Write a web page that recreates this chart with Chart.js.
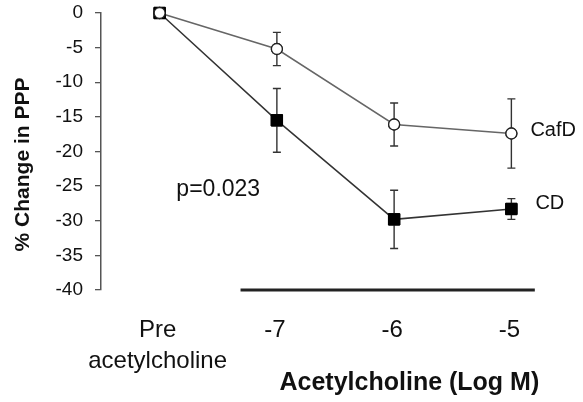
<!DOCTYPE html>
<html><head><meta charset="utf-8">
<script src="https://cdn.jsdelivr.net/npm/chart.js@4/dist/chart.umd.min.js"></script>
<style>html,body{margin:0;padding:0;background:#fff;} #wrap{width:583px;height:402px;}</style>
</head><body><div id="wrap"><canvas id="c" width="583" height="402"></canvas></div>
<script>
const categories = [["Pre", "acetylcholine"], "-7", "-6", "-5"];
const seriesNames = ["CafD", "CD"];
const cafdMean = [0, -5.2, -16.1, -17.4];
const cafdErr  = [0, 2.4, 3.1, 5.0];
const cdMean   = [0, -15.5, -29.8, -28.3];
const cdErr    = [0, 4.6, 4.2, 1.5];
const yMin = -40, yMax = 0, yStep = 5;
const pText = "p=0.023";
const pPos = {between: [0, 1], value: -25.5};
const yTitle = "% Change in PPP";
const xTitle = "Acetylcholine (Log M)";

const FONT = "'Liberation Sans', Arial, sans-serif";
const TXT = "#111";

const errs = [cafdErr, cdErr];
const labelOffsets = [{dx: 19, dy: -3}, {dx: 24, dy: -5}];

const extras = {
  id: 'extras',
  afterDatasetsDraw(chart) {
    const ctx = chart.ctx;
    const xs = chart.scales.x, ys = chart.scales.y;
    ctx.save();
    ctx.strokeStyle = '#333';
    ctx.lineWidth = 1.4;
    chart.data.datasets.forEach((ds, di) => {
      ds.data.forEach((v, i) => {
        const e = errs[di][i];
        if (!e) return;
        const x = xs.getPixelForValue(i);
        const y1 = ys.getPixelForValue(v + e), y2 = ys.getPixelForValue(v - e);
        ctx.beginPath();
        ctx.moveTo(x, y1); ctx.lineTo(x, y2);
        ctx.moveTo(x - 4, y1); ctx.lineTo(x + 4, y1);
        ctx.moveTo(x - 4, y2); ctx.lineTo(x + 4, y2);
        ctx.stroke();
      });
    });
    ctx.restore();
    chart.data.datasets.map((d, i) => i).reverse().forEach(di => {
      const meta = chart.getDatasetMeta(di);
      meta.data.forEach(pt => pt.draw(ctx, chart.chartArea));
    });
  },
  afterDraw(chart) {
    const ctx = chart.ctx;
    const xs = chart.scales.x, ys = chart.scales.y;
    const step = xs.getPixelForValue(1) - xs.getPixelForValue(0);
    ctx.save();
    ctx.fillStyle = TXT;
    ctx.font = "20px " + FONT;
    ctx.textAlign = 'left';
    ctx.textBaseline = 'middle';
    chart.data.datasets.forEach((ds, di) => {
      const last = ds.data.length - 1;
      const x = xs.getPixelForValue(last) + labelOffsets[di].dx;
      const y = ys.getPixelForValue(ds.data[last]) + labelOffsets[di].dy;
      ctx.fillText(ds.label, x, y);
    });
    ctx.font = "23px " + FONT;
    ctx.textAlign = 'center';
    const px = (xs.getPixelForValue(pPos.between[0]) + xs.getPixelForValue(pPos.between[1])) / 2;
    ctx.fillText(pText, px, ys.getPixelForValue(pPos.value));
    // x axis title, centred under the dose categories
    ctx.font = "bold 25px " + FONT;
    ctx.fillText(xTitle, xs.getPixelForValue(2) + 0.13 * step, xs.bottom - 15);
    // bar under dose points
    ctx.strokeStyle = '#222';
    ctx.lineWidth = 3;
    ctx.beginPath();
    ctx.moveTo(xs.getPixelForValue(1) - 0.31 * step, ys.bottom);
    ctx.lineTo(xs.getPixelForValue(3) + 0.2 * step, ys.bottom);
    ctx.stroke();
    // y title
    ctx.translate(23, (ys.top + ys.bottom) / 2 + 13);
    ctx.rotate(-Math.PI / 2);
    ctx.font = "bold 21px " + FONT;
    ctx.textAlign = 'center';
    ctx.fillText(yTitle, 0, 0);
    ctx.restore();
  }
};

new Chart(document.getElementById('c'), {
  type: 'line',
  data: {
    labels: categories,
    datasets: [
      {
        label: seriesNames[0], data: cafdMean,
        borderColor: '#666', borderWidth: 1.5,
        pointStyle: 'circle', pointRadius: 5.5, pointBackgroundColor: '#fff',
        pointBorderColor: '#222', pointBorderWidth: 1.3, clip: false
      },
      {
        label: seriesNames[1], data: cdMean,
        borderColor: '#333', borderWidth: 1.5,
        pointStyle: 'rect', pointRadius: 8, pointBackgroundColor: '#000',
        pointBorderColor: '#000', pointBorderWidth: 1, clip: false
      }
    ]
  },
  options: {
    responsive: false,
    animation: false,
    events: [],
    layout: {padding: {top: 13, right: 13, bottom: 4, left: 0}},
    plugins: {legend: {display: false}, tooltip: {enabled: false}},
    scales: {
      x: {
        type: 'category',
        offset: true,
        afterFit(scale) { scale.height = 108; scale.paddingLeft = 0; scale.paddingRight = 0; },
        grid: {display: false},
        border: {display: false},
        ticks: {
          color: TXT, padding: 17, labelOffset: -2, maxRotation: 0, autoSkip: false,
          font: {family: FONT, size: 24, lineHeight: 1.3}
        },
        title: {display: false}
      },
      y: {
        min: yMin, max: yMax,
        afterFit(scale) { scale.width = 101; scale.paddingTop = 0; scale.paddingBottom = 0; },
        afterBuildTicks(scale) {
          const t = [];
          for (let v = yMax; v >= yMin; v -= yStep) t.push({value: v});
          scale.ticks = t;
        },
        grid: {display: true, drawOnChartArea: false, drawTicks: true, tickLength: 6, color: '#555', lineWidth: 1.3},
        border: {display: true, color: '#555', width: 1.5},
        ticks: {
          color: TXT, padding: 12,
          font: {family: FONT, size: 19, lineHeight: 1.2}
        }
      }
    }
  },
  plugins: [extras]
});
</script>
</body></html>
